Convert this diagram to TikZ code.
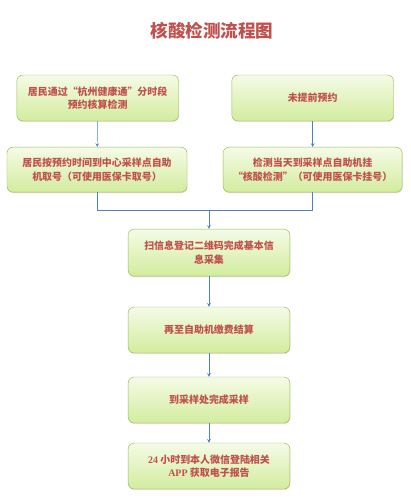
\documentclass[tikz,border=0pt]{standalone}
\usepackage{fontspec}
\setmainfont{Liberation Serif}
\newfontfamily\cjk{Noto Sans CJK SC}
\usetikzlibrary{shadows}

\definecolor{steptext}{RGB}{192,80,77}
\definecolor{stepline}{RGB}{155,187,89}
\definecolor{steptop}{RGB}{245,251,230}
\definecolor{stepbottom}{RGB}{210,236,158}
\definecolor{flowblue}{RGB}{79,129,189}

\begin{document}
\begin{tikzpicture}[
    box/.style={
        rectangle, draw=stepline, rounded corners=1.8mm,
        top color=steptop, bottom color=stepbottom,
        minimum width=4.85cm, minimum height=1.38cm,
        align=center, text=steptext,
        font=\cjk\fontsize{8.5}{11.5}\selectfont\bfseries,
        drop shadow={shadow xshift=0.4pt, shadow yshift=-0.8pt, opacity=0.25}
    },
    titlebox/.style={
        font=\cjk\fontsize{15}{18}\selectfont\bfseries, text=steptext
    },
    arrow/.style={->, >=stealth, draw=flowblue, thin},
    line/.style={draw=flowblue, thin}
]
\useasboundingbox (0,0) rectangle (12.33,-15);

% ==================== TITLE ====================
\node[titlebox] (title) at (6.36,-0.93) {核酸检测流程图};

% ==================== TWO BRANCHES ====================
%预约
\node[box] (booked) at (2.93,-2.94) {居民通过“杭州健康通”分时段\\预约核算检测};
\node[box, minimum width=5.4cm, minimum height=1.35cm] (bookedkiosk) at (2.91,-5.09)
    {居民按预约时间到中心采样点自助\\机取号（可使用医保卡取号）};

% 未预约
\node[box] (walkin) at (9.38,-2.94) {未提前预约};
\node[box, minimum width=5.37cm, minimum height=1.35cm] (walkinkiosk) at (9.38,-5.09)
    {检测当天到采样点自助机挂\\“核酸检测”（可使用医保卡挂号）};

% ==================== COMMON STEPS ====================
\coordinate (merge) at (6.27,-6.3);
\node[box, minimum height=1.41cm] (scan) at (6.27,-7.58) {扫信息登记二维码完成基本信\\息采集};
\node[box] (pay) at (6.27,-9.9) {再至自助机缴费结算};
\node[box] (sample) at (6.27,-12.0) {到采样处完成采样};
\node[box] (report) at (6.27,-13.98) {{\rmfamily 24} 小时到本人微信登陆相关\\{\rmfamily APP} 获取电子报告};

% ==================== ARROWS ====================
\draw[arrow] (booked) -- (bookedkiosk);
\draw[arrow] (walkin) -- (walkinkiosk);
\draw[line] (bookedkiosk.south) |- (merge);
\draw[line] (walkinkiosk.south) |- (merge);
\draw[arrow] (merge) -- (scan);
\draw[arrow] (scan) -- (pay);
\draw[arrow] (pay) -- (sample);
\draw[arrow] (sample) -- (report);

\end{tikzpicture}
\end{document}
